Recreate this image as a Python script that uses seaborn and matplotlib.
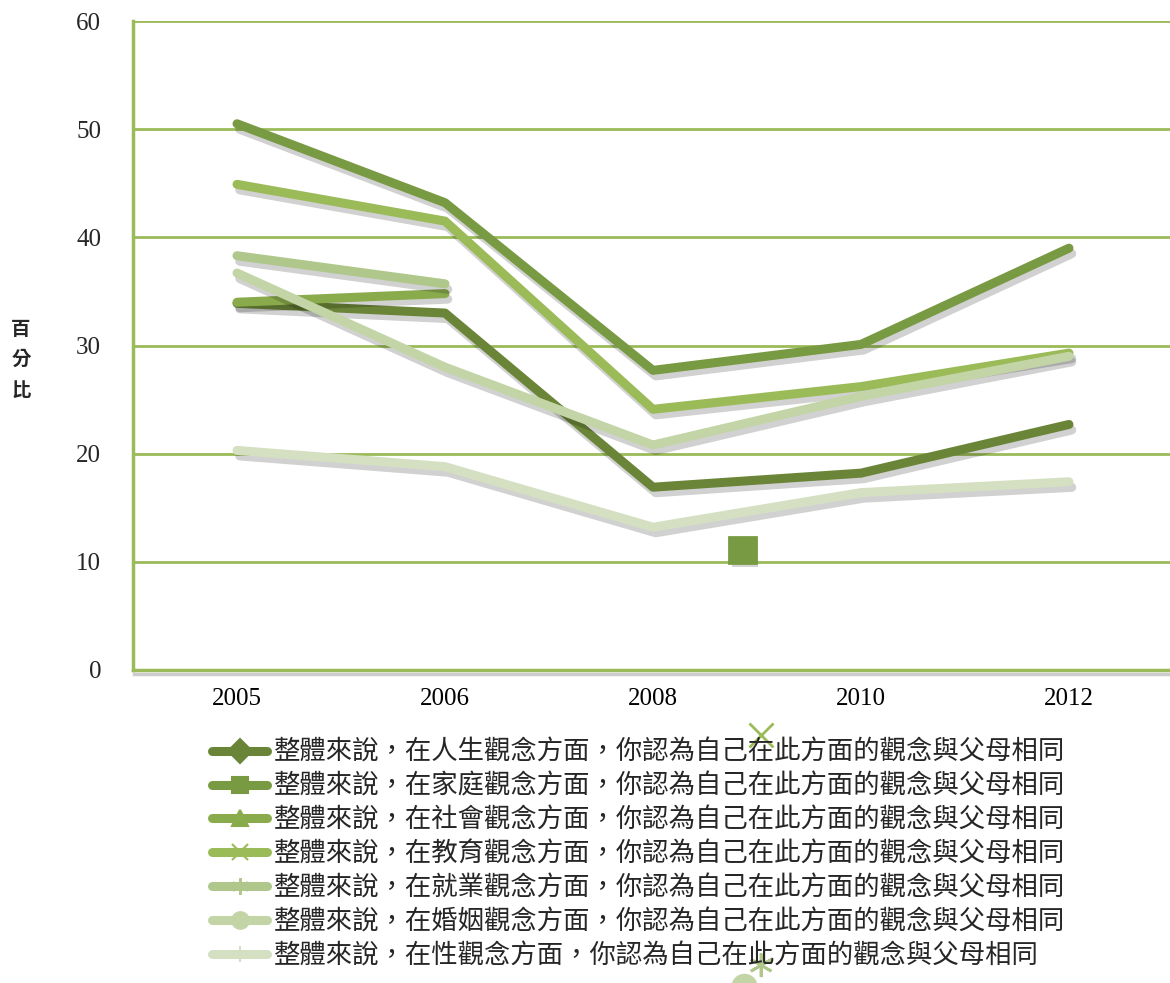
import matplotlib
matplotlib.use('Agg')
import numpy as np
import pandas as pd
import seaborn as sns
import matplotlib.pyplot as plt
import matplotlib.patheffects as pe
from matplotlib.lines import Line2D

# data
years = ['2005', '2006', '2008', '2010', '2012']
series_names = [
    '整體來說，在人生觀念方面，你認為自己在此方面的觀念與父母相同',
    '整體來說，在家庭觀念方面，你認為自己在此方面的觀念與父母相同',
    '整體來說，在社會觀念方面，你認為自己在此方面的觀念與父母相同',
    '整體來說，在教育觀念方面，你認為自己在此方面的觀念與父母相同',
    '整體來說，在就業觀念方面，你認為自己在此方面的觀念與父母相同',
    '整體來說，在婚姻觀念方面，你認為自己在此方面的觀念與父母相同',
    '整體來說，在性觀念方面，你認為自己在此方面的觀念與父母相同',
]
life = [33.9, 33.0, 16.9, 18.2, 22.7]
family = [50.5, 43.2, 27.7, 30.1, 39.0]
society = [34.0, 34.8, np.nan, np.nan, np.nan]
education = [44.9, 41.5, 24.1, 26.2, 29.3]
career = [38.3, 35.7, np.nan, np.nan, np.nan]
marriage = [36.7, 28.0, 20.8, 25.3, 29.0]
sexuality = [20.3, 18.8, 13.2, 16.4, 17.4]

colors = ['#6b8538', '#789a42', '#8aab4c', '#9bbb59', '#afc78a', '#c3d5a7', '#d5e0c2']
markers = ['D', 's', '^', 'x', (6, 2, 0), 'o', '|']

# stray marker artifacts seen in the reference (x position, value, marker, colour)
stray_x = [2.43, 2.52, 2.52, 2.44]
stray_y = [11.1, -6.0, -27.3, -29.3]
stray_marker = ['s', 'x', (6, 2, 0), 'o']
stray_color = ['#789a42', '#9bbb59', '#afc78a', '#c3d5a7']

all_values = [life, family, society, education, career, marriage, sexuality]
rows = []
for name, vals in zip(series_names, all_values):
    for i, v in enumerate(vals):
        rows.append({'series': name, 'pos': i, 'value': v})
df = pd.DataFrame(rows).dropna()

sns.set_style('white')
plt.rcParams['font.family'] = ['Liberation Serif', 'Noto Sans CJK TC']

green = '#9bbb59'
fig = plt.figure(figsize=(11.7, 9.83), dpi=100)
ax = fig.add_axes([133 / 1170, 1 - 670 / 983, 1040 / 1170, 649 / 983])

sns.lineplot(data=df, x='pos', y='value', hue='series', hue_order=series_names,
             palette=colors, lw=6.5, solid_capstyle='round', solid_joinstyle='round',
             legend=False, sort=False, ax=ax)
for ln in ax.lines:
    ln.set_path_effects([pe.SimpleLineShadow(offset=(2, -4), shadow_color='black', alpha=0.18),
                         pe.Normal()])

for x, y, m, c in zip(stray_x, stray_y, stray_marker, stray_color):
    ax.plot([x], [y], marker=m, color=c, markersize=19 if m == 's' else 17,
            markeredgewidth=2, clip_on=False, zorder=5,
            path_effects=[pe.SimplePatchShadow(offset=(2, -3), alpha=0.2), pe.Normal()])

ax.set_xlim(-0.5, 4.5)
ax.set_ylim(0, 60)
ax.set_xticks(range(len(years)))
ax.set_xticklabels(years)
ax.set_xticks(np.arange(-0.5, 4.6, 1), minor=True)
ax.set_yticks(range(0, 61, 10))
ax.tick_params(axis='x', which='major', length=0, pad=13, labelsize=18, colors='black')
ax.tick_params(axis='x', which='minor', length=6, width=2, color=green, direction='out')
ax.tick_params(axis='y', length=8, width=2, color=green, pad=15, labelsize=18, direction='out')
ax.grid(axis='y', color=green, lw=2)
ax.set_axisbelow(True)
for s in ['top', 'right']:
    ax.spines[s].set_visible(False)
for s in ['left', 'bottom']:
    ax.spines[s].set_color(green)
    ax.spines[s].set_linewidth(2.5)
ax.spines['bottom'].set_path_effects([pe.SimpleLineShadow(offset=(1, -3), alpha=0.2), pe.Normal()])

ax.set_xlabel('')
ax.set_ylabel('百\n分\n比', rotation=0, fontsize=14, fontweight='bold',
              family=['Noto Sans CJK TC'], linespacing=1.75, va='center', ha='center')
ax.yaxis.set_label_coords(-112 / 1040, 0.478)

handles = [Line2D([], [], color=c, lw=6.5, marker=m, markersize=12, markeredgewidth=1.5,
                  markerfacecolor=c, markeredgecolor=c, solid_capstyle='round')
           for c, m in zip(colors, markers)]
fig.legend(handles, series_names, loc='upper left', bbox_to_anchor=(212 / 1170, 1 - 739 / 983),
           frameon=False, borderpad=0, borderaxespad=0, handlelength=2.1, handletextpad=0.25,
           labelspacing=0.26, prop={'family': ['Noto Sans CJK TC'], 'size': 19})

fig.savefig('out.png', dpi=100)
